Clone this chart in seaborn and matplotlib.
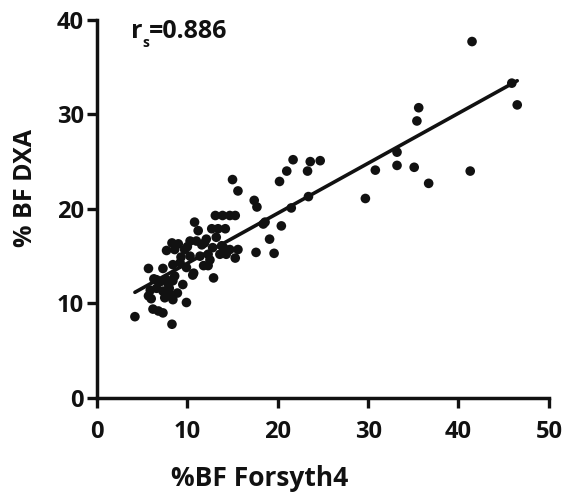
import numpy as np
import pandas as pd
import seaborn as sns
import matplotlib
matplotlib.use("Agg")
import matplotlib.pyplot as plt

# %BF Forsyth4 (x) and %BF DXA (y)
forsyth4 = [
    15.0, 15.6, 13.1, 13.9, 14.7, 15.3, 10.8, 12.7, 13.4, 14.2,
    11.2, 8.3, 9.0, 10.3, 11.0, 12.1, 13.2, 7.7, 8.6, 9.7,
    14.7, 15.6, 13.6, 14.3, 15.3, 10.3, 11.4, 12.3, 5.7, 7.3,
    8.4, 9.2, 9.9, 11.8, 12.3, 12.9, 6.6, 7.0, 7.7, 8.4,
    8.6, 5.9, 6.6, 7.3, 8.0, 8.9, 5.7, 7.5, 8.4, 9.9,
    6.2, 6.8, 7.3, 4.2, 8.3, 45.9, 46.5, 35.6, 35.4, 33.2,
    33.2, 30.8, 35.1, 36.7, 41.3, 29.7, 21.7, 23.6, 24.7, 21.0,
    23.3, 20.2, 17.4, 17.7, 21.5, 23.4, 18.6, 18.4, 20.4, 19.1,
    17.6, 19.6, 41.5, 10.0, 11.6, 12.8, 9.5, 10.7, 7.9, 6.3,
    9.3, 11.9, 13.8, 10.6, 8.1, 12.5, 14.0, 6.0,
]
dxa = [
    23.1, 21.9, 19.3, 19.3, 19.3, 19.3, 18.6, 17.9, 17.9, 17.9,
    17.7, 16.4, 16.3, 16.6, 16.6, 16.8, 17.0, 15.6, 15.7, 15.7,
    15.7, 15.7, 15.2, 15.2, 14.8, 15.0, 15.0, 15.2, 13.7, 13.7,
    14.1, 14.3, 13.8, 14.0, 14.0, 12.7, 12.5, 12.3, 12.5, 12.4,
    12.9, 11.4, 11.6, 11.3, 11.6, 11.1, 10.8, 10.6, 10.4, 10.1,
    9.4, 9.2, 9.0, 8.6, 7.8, 33.3, 31.0, 30.7, 29.3, 26.0,
    24.6, 24.1, 24.4, 22.7, 24.0, 21.1, 25.2, 25.0, 25.1, 24.0,
    24.0, 22.9, 20.9, 20.2, 20.1, 21.3, 18.6, 18.4, 18.2, 16.8,
    15.4, 15.3, 37.7, 16.0, 16.2, 15.9, 12.0, 13.2, 12.0, 12.6,
    14.9, 16.4, 16.1, 13.0, 10.9, 14.6, 15.9, 10.5,
]
x_ticks = [0, 10, 20, 30, 40, 50]
y_ticks = [0, 10, 20, 30, 40]
stat_symbol, stat_sub, stat_value = "r", "s", "=0.886"

df = pd.DataFrame({"x": forsyth4, "y": dxa})

sns.set_theme(style="ticks")
plt.rcParams["font.family"] = ["Open Sans", "DejaVu Sans"]
plt.rcParams["font.weight"] = "bold"

ink = "#111111"
fig = plt.figure(figsize=(5.67, 4.95), dpi=100)
ax = fig.add_axes([0.171, 0.196, 0.797, 0.764])

sns.regplot(data=df, x="x", y="y", ax=ax, ci=None, truncate=True,
            color=ink,
            scatter_kws=dict(s=48, edgecolor="none", alpha=1, zorder=3),
            line_kws=dict(lw=2.6, color=ink, zorder=2))

ax.set_xlim(0, 50)
ax.set_ylim(0, 40)
ax.set_xticks(x_ticks)
ax.set_yticks(y_ticks)
ax.tick_params(axis="both", length=7.5, width=2.4, color=ink,
               labelsize=17, labelcolor=ink)
ax.tick_params(axis="x", pad=8.5)
ax.tick_params(axis="y", pad=2)
for lab in ax.get_xticklabels() + ax.get_yticklabels():
    lab.set_fontweight("bold")
for side in ["top", "right"]:
    ax.spines[side].set_visible(False)
for side in ["left", "bottom"]:
    ax.spines[side].set_linewidth(2.5)
    ax.spines[side].set_color(ink)

ax.set_xlabel("%BF Forsyth4", fontsize=19, fontweight="bold", color=ink)
ax.set_ylabel("% BF DXA", fontsize=18, fontweight="bold", color=ink)
ax.xaxis.set_label_coords(0.361, -0.178)
ax.yaxis.set_label_coords(-0.13, 0.556)

t1 = ax.text(3.75, 38.05, stat_symbol, fontsize=18, fontweight="bold",
             va="baseline", ha="left", color=ink)
t2 = ax.annotate(stat_sub, xy=(1, 0), xycoords=t1, xytext=(0, -4),
                 textcoords="offset points", fontsize=10, fontweight="bold",
                 va="bottom", ha="left", color=ink)
t3 = ax.annotate(stat_value, xy=(1, 0), xycoords=(t2, t1), fontsize=18,
                 fontweight="bold", va="bottom", ha="left", color=ink)

fig.savefig("out.png", dpi=100)
